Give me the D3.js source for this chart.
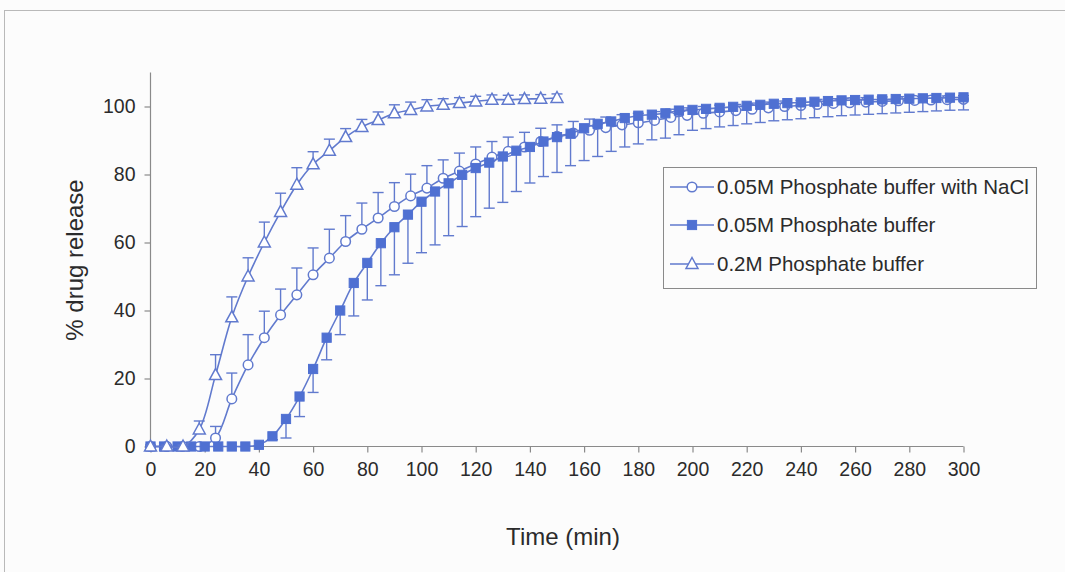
<!DOCTYPE html>
<html>
<head>
<meta charset="utf-8">
<script src="https://cdn.jsdelivr.net/npm/d3@7"></script>
<style>
  html, body { margin: 0; padding: 0; background: #fcfcfc; }
  svg { display: block; font-family: "Liberation Sans", Arial, sans-serif; }
</style>
</head>
<body>
<svg id="chart" width="1065" height="572"></svg>
<script>
// Sampling times (min)
const timesSix = [0, 6, 12, 18, 24, 30, 36, 42, 48, 54, 60, 66, 72, 78, 84, 90, 96, 102, 108, 114, 120,
  126, 132, 138, 144, 150, 156, 162, 168, 174, 180, 186, 192, 198, 204, 210, 216, 222, 228, 234, 240,
  246, 252, 258, 264, 270, 276, 282, 288, 294, 300];
const timesFive = [0, 5, 10, 15, 20, 25, 30, 35, 40, 45, 50, 55, 60, 65, 70, 75, 80, 85, 90, 95, 100,
  105, 110, 115, 120, 125, 130, 135, 140, 145, 150, 155, 160, 165, 170, 175, 180, 185, 190, 195, 200,
  205, 210, 215, 220, 225, 230, 235, 240, 245, 250, 255, 260, 265, 270, 275, 280, 285, 290, 295, 300];
const timesTri = [0, 6, 12, 18, 24, 30, 36, 42, 48, 54, 60, 66, 72, 78, 84, 90, 96, 102, 108, 114, 120,
  126, 132, 138, 144, 150];

// 0.05M Phosphate buffer with NaCl (mean, +SD)
const naclMean = [0, 0, 0, 0, 2.5, 14, 24, 32, 38.7, 44.6, 50.5, 55.4, 60.3, 63.9, 67.2, 70.6, 73.7, 76,
  78.9, 81, 83.1, 85.1, 86.8, 88.1, 89.7, 91.2, 92.2, 93, 93.8, 94.6, 95.2, 95.9, 96.8, 97.4, 98, 98.4,
  98.8, 99.2, 99.6, 100, 100.3, 100.6, 100.9, 101.1, 101.3, 101.5, 101.7, 101.8, 101.9, 102, 102.1];
const naclSd = [0, 0, 0, 0, 3.4, 7.6, 8.9, 7.8, 7.6, 7.9, 7.9, 8.5, 7.6, 7.7, 7.5, 7, 6.4, 6.6, 5.4, 5.3,
  5, 4.6, 4.2, 4.3, 3.9, 3.4, 3.4, 3.3, 3.1, 3, 2.8, 2.6, 2.4, 2.2, 2, 2, 1.8, 1.8, 1.7, 1.6, 1.5, 1.5,
  1.4, 1.4, 1.3, 1.3, 1.2, 1.2, 1.2, 1.1, 1.1];

// 0.05M Phosphate buffer (mean, -SD)
const lowMean = [0, 0, 0, 0, 0, 0, 0, 0, 0.5, 3, 8.1, 14.7, 22.8, 32, 40, 48.1, 54, 59.8, 64.5, 68.2, 72,
  75, 77.4, 79.9, 81.9, 83.5, 85.3, 87, 88.1, 89.7, 91, 92, 93.6, 94.9, 95.6, 96.6, 97.3, 97.6, 98, 98.8,
  99, 99.3, 99.6, 99.9, 100.2, 100.5, 100.8, 101, 101.2, 101.4, 101.6, 101.8, 101.9, 102, 102.1, 102.2,
  102.3, 102.4, 102.5, 102.6, 102.7];
const lowSd = [0, 0, 0, 0, 0, 0, 0, 0, 0, 1, 5.6, 5.9, 6.9, 6.5, 7.1, 9.7, 10.9, 12.5, 14, 14.3, 15,
  15.7, 15.4, 15.2, 14.3, 13.4, 13.5, 12, 10.6, 10.3, 10.4, 9.4, 9.5, 9.6, 8.8, 8.5, 8.3, 7.4, 7.3, 7.1,
  6, 5.8, 5.6, 5.5, 5.3, 5.2, 5, 4.9, 4.8, 4.7, 4.6, 4.5, 4.4, 4.3, 4.2, 4.1, 4, 3.9, 3.8, 3.7, 3.7];

// 0.2M Phosphate buffer (mean, +SD)
const highMean = [0, 0, 0, 5, 21, 38, 50, 60, 69, 77, 83, 87, 91, 94, 96, 98, 99, 100, 100.5, 101, 101.5,
  102, 102, 102.2, 102.3, 102.5];
const highSd = [0.4, 0.4, 0.4, 2.5, 6, 6, 5.5, 6, 5.5, 5, 3.7, 3.4, 2.5, 2.2, 2.4, 2.5, 2.3, 2, 1.8, 1.6,
  1.5, 1.4, 1.3, 1.2, 1.2, 1.2];

const seriesNames = ["0.05M Phosphate buffer with NaCl", "0.05M Phosphate buffer", "0.2M Phosphate buffer"];
const xTicks = [0, 20, 40, 60, 80, 100, 120, 140, 160, 180, 200, 220, 240, 260, 280, 300];
const yTicks = [0, 20, 40, 60, 80, 100];

const blue = "#617ace";
const blueFill = "#4f70d2";
const textColor = "#2b2b2b";
const axisColor = "#8a8a8a";

const svg = d3.select("#chart");

// outer frame
svg.append("rect").attr("x", 4.5).attr("y", 10.5).attr("width", 1080).attr("height", 580)
  .attr("fill", "#fcfcfc").attr("stroke", "#b9b9b9").attr("stroke-width", 1);

const x = d3.scaleLinear().domain([0, 300]).range([150.5, 963.5]);
const y = d3.scaleLinear().domain([0, 110]).range([446.5, 72.5]);

// axes
const xAxis = svg.append("g").attr("transform", `translate(0,${y(0)})`)
  .call(d3.axisBottom(x).tickValues(xTicks).tickSize(6).tickPadding(10).tickSizeOuter(0));
const yAxis = svg.append("g").attr("transform", `translate(${x(0)},0)`)
  .call(d3.axisLeft(y).tickValues(yTicks).tickSize(6).tickPadding(9).tickSizeOuter(0));
[xAxis, yAxis].forEach(g => {
  g.select(".domain").attr("stroke", axisColor).attr("stroke-width", 1.2);
  g.selectAll(".tick line").attr("stroke", axisColor).attr("stroke-width", 1.2);
  g.selectAll(".tick text").attr("fill", textColor).style("font-size", "19.5px")
    .style("font-family", "'Liberation Sans', Arial, sans-serif");
});
// the y axis line runs a little above the top tick
yAxis.select(".domain").attr("d", `M0,${y(110)}V${y(0)}`);
xAxis.select(".domain").attr("d", `M${x(0)},0H${x(300)}`);

// axis titles
svg.append("text").attr("x", 563).attr("y", 545).attr("text-anchor", "middle")
  .attr("fill", textColor).style("font-size", "24px").text("Time (min)");
svg.append("text").attr("transform", "translate(83,260) rotate(-90)").attr("text-anchor", "middle")
  .attr("fill", textColor).style("font-size", "24px").text("% drug release");

const line = d3.line().x(d => x(d.t)).y(d => y(d.v)).curve(d3.curveCatmullRom.alpha(0.5));

function zip(ts, vs, sds) { return ts.map((t, i) => ({ t, v: vs[i], sd: sds[i] })); }

const naclData = zip(timesSix, naclMean, naclSd);
const lowData = zip(timesFive, lowMean, lowSd);
const highData = zip(timesTri, highMean, highSd);

function drawErrorBars(g, data, dir) {
  const bars = g.append("g").attr("stroke", blue).attr("stroke-width", 1.4).attr("fill", "none");
  data.filter(d => d.sd > 0).forEach(d => {
    const end = y(d.v + dir * d.sd);
    bars.append("line").attr("x1", x(d.t)).attr("x2", x(d.t)).attr("y1", y(d.v)).attr("y2", end);
    bars.append("line").attr("x1", x(d.t) - 5.5).attr("x2", x(d.t) + 5.5).attr("y1", end).attr("y2", end);
  });
}

const sym = {
  circle: (g, cx, cy) => g.append("circle").attr("cx", cx).attr("cy", cy).attr("r", 4.8)
    .attr("fill", "#ffffff").attr("stroke", blue).attr("stroke-width", 1.5),
  square: (g, cx, cy) => g.append("rect").attr("x", cx - 4.6).attr("y", cy - 4.6).attr("width", 9.2).attr("height", 9.2)
    .attr("fill", blueFill).attr("stroke", blueFill).attr("stroke-width", 1),
  triangle: (g, cx, cy) => g.append("path")
    .attr("d", `M${cx},${cy - 6.5}L${cx + 6},${cy + 4.5}L${cx - 6},${cy + 4.5}Z`)
    .attr("fill", "#ffffff").attr("stroke", blue).attr("stroke-width", 1.5)
};

function drawSeries(data, dir, kind) {
  const g = svg.append("g");
  drawErrorBars(g, data, dir);
  g.append("path").datum(data).attr("d", line).attr("fill", "none")
    .attr("stroke", blue).attr("stroke-width", 1.6);
  const m = g.append("g");
  data.forEach(d => sym[kind](m, x(d.t), y(d.v)));
}

drawSeries(naclData, 1, "circle");
drawSeries(lowData, -1, "square");
drawSeries(highData, 1, "triangle");

// legend
const lg = svg.append("g");
lg.append("rect").attr("x", 663.5).attr("y", 167.5).attr("width", 373).attr("height", 121)
  .attr("fill", "#fcfcfc").attr("stroke", "#8a8a8a").attr("stroke-width", 1);
const kinds = ["circle", "square", "triangle"];
const rowY = [187, 225, 264];
seriesNames.forEach((name, i) => {
  lg.append("line").attr("x1", 670).attr("x2", 714).attr("y1", rowY[i]).attr("y2", rowY[i])
    .attr("stroke", blue).attr("stroke-width", 1.6);
  sym[kinds[i]](lg, 692, rowY[i]);
  lg.append("text").attr("x", 717).attr("y", rowY[i]).attr("dy", "0.35em")
    .attr("fill", textColor).style("font-size", "20.5px").text(name);
});
</script>
</body>
</html>
